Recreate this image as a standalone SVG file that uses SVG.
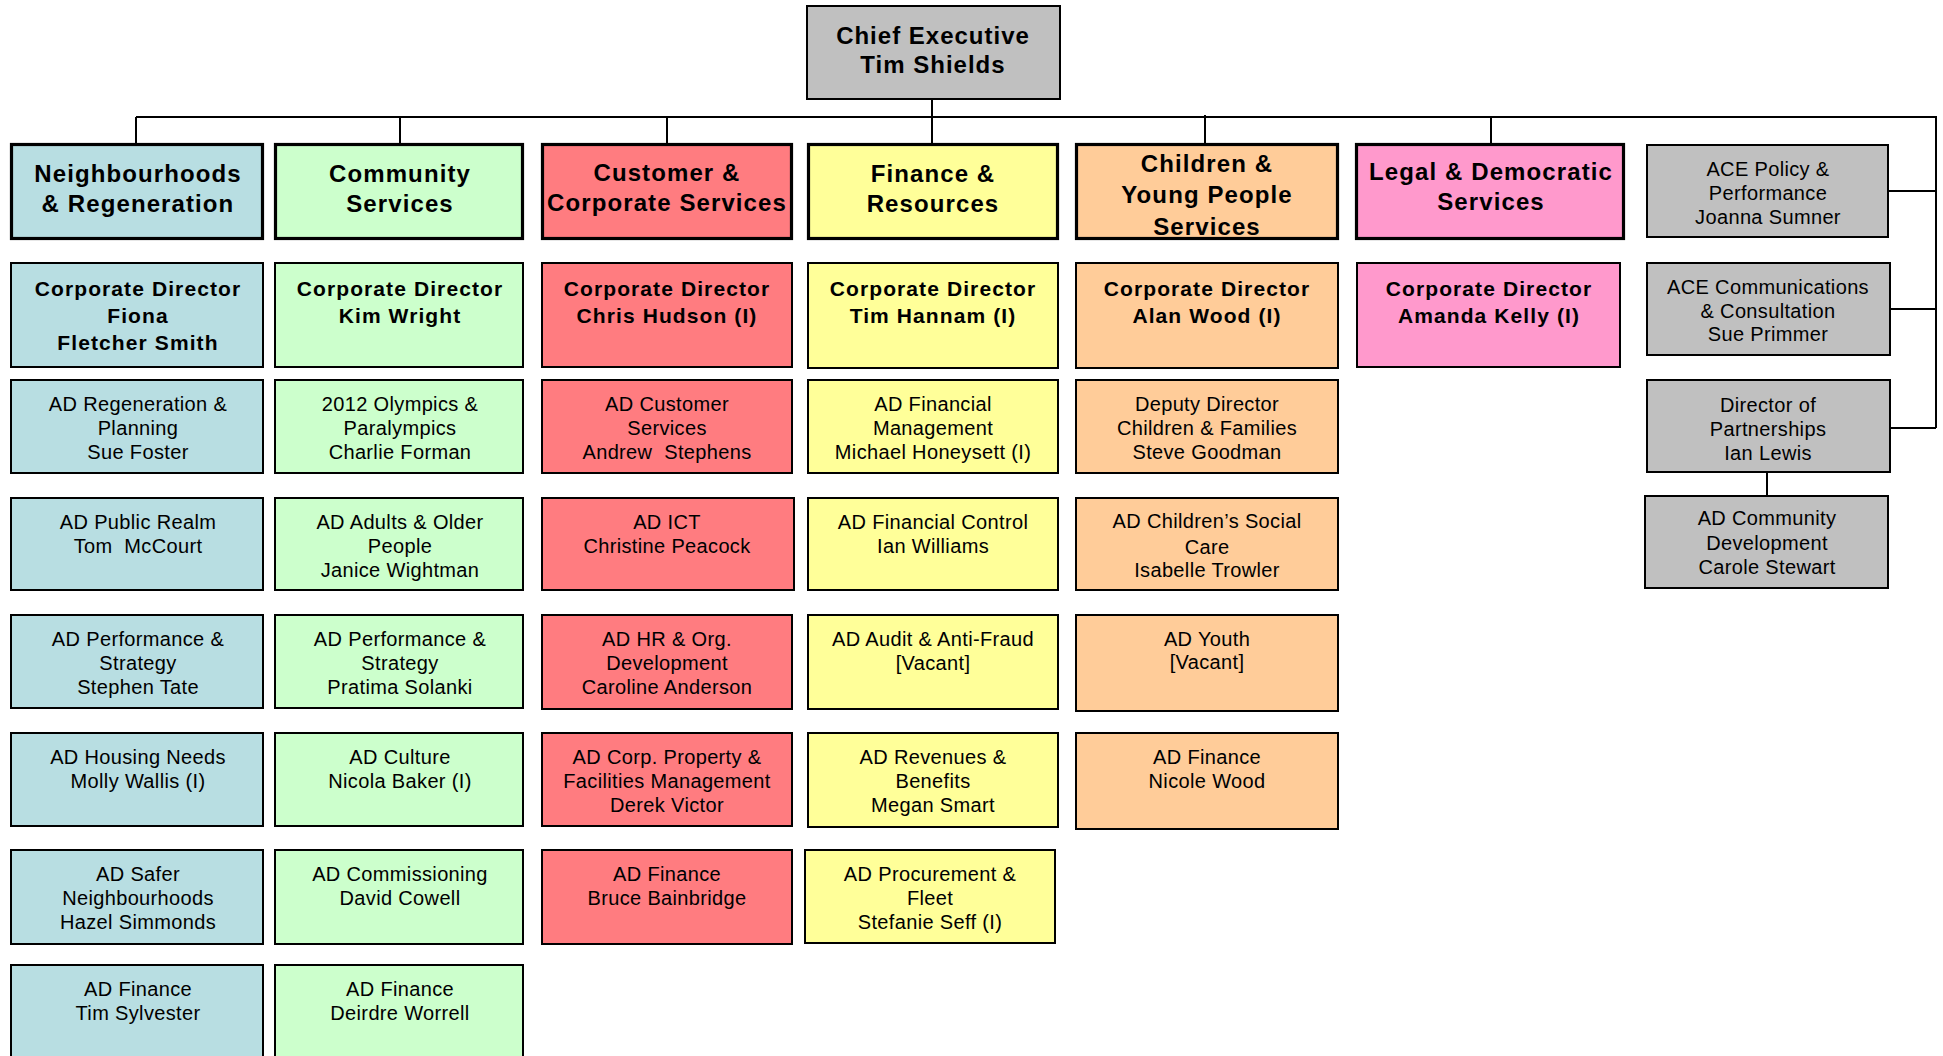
<svg xmlns="http://www.w3.org/2000/svg" width="1943" height="1056" viewBox="0 0 1943 1056">
<style>
rect{stroke:#000;stroke-width:2}
rect.hd{stroke-width:3.2}
.nr{fill:#B8DEE2}.cs{fill:#CCFFCC}.cu{fill:#FF7C80}.fi{fill:#FFFF99}.ch{fill:#FFCC99}.lg{fill:#FF99CC}.gy{fill:#C0C0C0}
text{font-family:"Liberation Sans",Arial,sans-serif;font-size:20px;text-anchor:middle;fill:#000;letter-spacing:0.35px}
text.bd{font-size:21px;font-weight:bold;letter-spacing:1.1px}
text.h{font-size:24px;font-weight:bold;letter-spacing:1.1px}
text.ce{font-size:24px;font-weight:bold;letter-spacing:1px}
.conn path{fill:none;stroke:#000;stroke-width:2}
</style>
<g class="conn" id="connectors">
<path d="M136 117 H1936 V428"/>
<path d="M932 100 V143"/>
<path d="M136 117 V143"/>
<path d="M400 117 V143"/>
<path d="M667 117 V143"/>
<path d="M1205 115 V143"/>
<path d="M1491 117 V143"/>
<path d="M1889 191 H1936"/>
<path d="M1891 309 H1936"/>
<path d="M1891 428 H1936"/>
<path d="M1767 473 V495"/>
</g>
<g id="chief"><rect class="gy" x="807" y="6" width="253" height="93"/><text class="ce" x="933" y="43.5">Chief Executive</text><text class="ce" x="933" y="73">Tim Shields</text></g>

<!-- Column 1 -->
<g id="nr-head"><rect class="nr hd" x="11.5" y="144.5" width="251" height="94"/><text class="h" x="138" y="181.5">Neighbourhoods</text><text class="h" x="138" y="212">&amp; Regeneration</text></g>
<g id="nr-cd"><rect class="nr" x="11" y="263" width="252" height="104"/><text class="bd" x="138" y="295.5">Corporate Director</text><text class="bd" x="138" y="322.5">Fiona</text><text class="bd" x="138" y="349.5">Fletcher Smith</text></g>
<g id="nr-r3"><rect class="nr" x="11" y="380" width="252" height="93"/><text x="138" y="410.5">AD Regeneration &amp;</text><text x="138" y="435">Planning</text><text x="138" y="459">Sue Foster</text></g>
<g id="nr-r4"><rect class="nr" x="11" y="498" width="252" height="92"/><text x="138" y="528.5">AD Public Realm</text><text x="138" y="553" style="white-space:pre">Tom  McCourt</text></g>
<g id="nr-r5"><rect class="nr" x="11" y="615" width="252" height="93"/><text x="138" y="645.5">AD Performance &amp;</text><text x="138" y="670">Strategy</text><text x="138" y="694">Stephen Tate</text></g>
<g id="nr-r6"><rect class="nr" x="11" y="733" width="252" height="93"/><text x="138" y="763.5">AD Housing Needs</text><text x="138" y="788">Molly Wallis (I)</text></g>
<g id="nr-r7"><rect class="nr" x="11" y="850" width="252" height="94"/><text x="138" y="880.5">AD Safer</text><text x="138" y="905">Neighbourhoods</text><text x="138" y="929">Hazel Simmonds</text></g>
<g id="nr-r8"><rect class="nr" x="11" y="965" width="252" height="110"/><text x="138" y="995.5">AD Finance</text><text x="138" y="1020">Tim Sylvester</text></g>

<!-- Column 2 -->
<g id="cs-head"><rect class="cs hd" x="275.5" y="144.5" width="247" height="94"/><text class="h" x="400" y="181.5">Community</text><text class="h" x="400" y="212">Services</text></g>
<g id="cs-cd"><rect class="cs" x="275" y="263" width="248" height="104"/><text class="bd" x="400" y="295.5">Corporate Director</text><text class="bd" x="400" y="322.5">Kim Wright</text></g>
<g id="cs-r3"><rect class="cs" x="275" y="380" width="248" height="93"/><text x="400" y="410.5">2012 Olympics &amp;</text><text x="400" y="435">Paralympics</text><text x="400" y="459">Charlie Forman</text></g>
<g id="cs-r4"><rect class="cs" x="275" y="498" width="248" height="92"/><text x="400" y="528.5">AD Adults &amp; Older</text><text x="400" y="553">People</text><text x="400" y="577">Janice Wightman</text></g>
<g id="cs-r5"><rect class="cs" x="275" y="615" width="248" height="93"/><text x="400" y="645.5">AD Performance &amp;</text><text x="400" y="670">Strategy</text><text x="400" y="694">Pratima Solanki</text></g>
<g id="cs-r6"><rect class="cs" x="275" y="733" width="248" height="93"/><text x="400" y="763.5">AD Culture</text><text x="400" y="788">Nicola Baker (I)</text></g>
<g id="cs-r7"><rect class="cs" x="275" y="850" width="248" height="94"/><text x="400" y="880.5">AD Commissioning</text><text x="400" y="905">David Cowell</text></g>
<g id="cs-r8"><rect class="cs" x="275" y="965" width="248" height="110"/><text x="400" y="995.5">AD Finance</text><text x="400" y="1020">Deirdre Worrell</text></g>

<!-- Column 3 -->
<g id="cu-head"><rect class="cu hd" x="542.5" y="144.5" width="249" height="94"/><text class="h" x="667" y="180.5">Customer &amp;</text><text class="h" x="667" y="211">Corporate Services</text></g>
<g id="cu-cd"><rect class="cu" x="542" y="263" width="250" height="104"/><text class="bd" x="667" y="295.5">Corporate Director</text><text class="bd" x="667" y="322.5">Chris Hudson (I)</text></g>
<g id="cu-r3"><rect class="cu" x="542" y="380" width="250" height="93"/><text x="667" y="410.5">AD Customer</text><text x="667" y="435">Services</text><text x="667" y="459" style="white-space:pre">Andrew  Stephens</text></g>
<g id="cu-r4"><rect class="cu" x="542" y="498" width="252" height="92"/><text x="667" y="528.5">AD ICT</text><text x="667" y="553">Christine Peacock</text></g>
<g id="cu-r5"><rect class="cu" x="542" y="615" width="250" height="94"/><text x="667" y="645.5">AD HR &amp; Org.</text><text x="667" y="670">Development</text><text x="667" y="694">Caroline Anderson</text></g>
<g id="cu-r6"><rect class="cu" x="542" y="733" width="250" height="93"/><text x="667" y="763.5">AD Corp. Property &amp;</text><text x="667" y="788">Facilities Management</text><text x="667" y="812">Derek Victor</text></g>
<g id="cu-r7"><rect class="cu" x="542" y="850" width="250" height="94"/><text x="667" y="880.5">AD Finance</text><text x="667" y="905">Bruce Bainbridge</text></g>

<!-- Column 4 -->
<g id="fi-head"><rect class="fi hd" x="808.5" y="144.5" width="249" height="94"/><text class="h" x="933" y="181.5">Finance &amp;</text><text class="h" x="933" y="212">Resources</text></g>
<g id="fi-cd"><rect class="fi" x="808" y="263" width="250" height="105"/><text class="bd" x="933" y="295.5">Corporate Director</text><text class="bd" x="933" y="322.5">Tim Hannam (I)</text></g>
<g id="fi-r3"><rect class="fi" x="808" y="380" width="250" height="93"/><text x="933" y="410.5">AD Financial</text><text x="933" y="435">Management</text><text x="933" y="459">Michael Honeysett (I)</text></g>
<g id="fi-r4"><rect class="fi" x="808" y="498" width="250" height="92"/><text x="933" y="528.5">AD Financial Control</text><text x="933" y="553">Ian Williams</text></g>
<g id="fi-r5"><rect class="fi" x="808" y="615" width="250" height="94"/><text x="933" y="645.5">AD Audit &amp; Anti-Fraud</text><text x="933" y="670">[Vacant]</text></g>
<g id="fi-r6"><rect class="fi" x="808" y="733" width="250" height="94"/><text x="933" y="763.5">AD Revenues &amp;</text><text x="933" y="788">Benefits</text><text x="933" y="812">Megan Smart</text></g>
<g id="fi-r7"><rect class="fi" x="805" y="850" width="250" height="93"/><text x="930" y="880.5">AD Procurement &amp;</text><text x="930" y="905">Fleet</text><text x="930" y="929">Stefanie Seff (I)</text></g>

<!-- Column 5 -->
<g id="ch-head"><rect class="ch hd" x="1076.5" y="144.5" width="261" height="94"/><text class="h" x="1207" y="171.5">Children &amp;</text><text class="h" x="1207" y="203">Young People</text><text class="h" x="1207" y="234.5">Services</text></g>
<g id="ch-cd"><rect class="ch" x="1076" y="263" width="262" height="105"/><text class="bd" x="1207" y="295.5">Corporate Director</text><text class="bd" x="1207" y="322.5">Alan Wood (I)</text></g>
<g id="ch-r3"><rect class="ch" x="1076" y="380" width="262" height="93"/><text x="1207" y="410.5">Deputy Director</text><text x="1207" y="435">Children &amp; Families</text><text x="1207" y="459">Steve Goodman</text></g>
<g id="ch-r4"><rect class="ch" x="1076" y="498" width="262" height="92"/><text x="1207" y="528">AD Children’s Social</text><text x="1207" y="553.5">Care</text><text x="1207" y="577">Isabelle Trowler</text></g>
<g id="ch-r5"><rect class="ch" x="1076" y="615" width="262" height="96"/><text x="1207" y="645.5">AD Youth</text><text x="1207" y="669">[Vacant]</text></g>
<g id="ch-r6"><rect class="ch" x="1076" y="733" width="262" height="96"/><text x="1207" y="763.5">AD Finance</text><text x="1207" y="788">Nicole Wood</text></g>

<!-- Column 6 -->
<g id="lg-head"><rect class="lg hd" x="1356.5" y="144.5" width="267" height="94"/><text class="h" x="1491" y="180">Legal &amp; Democratic</text><text class="h" x="1491" y="210">Services</text></g>
<g id="lg-cd"><rect class="lg" x="1357" y="263" width="263" height="104"/><text class="bd" x="1489" y="295.5">Corporate Director</text><text class="bd" x="1489" y="322.5">Amanda Kelly (I)</text></g>

<!-- Column 7 -->
<g id="ace-policy"><rect class="gy" x="1647" y="145" width="241" height="92"/><text x="1768" y="176">ACE Policy &amp;</text><text x="1768" y="200">Performance</text><text x="1768" y="224">Joanna Sumner</text></g>
<g id="ace-comms"><rect class="gy" x="1647" y="263" width="243" height="92"/><text x="1768" y="293.5">ACE Communications</text><text x="1768" y="317.5">&amp; Consultation</text><text x="1768" y="341">Sue Primmer</text></g>
<g id="partnerships"><rect class="gy" x="1647" y="380" width="243" height="92"/><text x="1768" y="411.5">Director of</text><text x="1768" y="435.5">Partnerships</text><text x="1768" y="459.5">Ian Lewis</text></g>
<g id="community-dev"><rect class="gy" x="1645" y="496" width="243" height="92"/><text x="1767" y="525">AD Community</text><text x="1767" y="549.5">Development</text><text x="1767" y="574">Carole Stewart</text></g>
</svg>
